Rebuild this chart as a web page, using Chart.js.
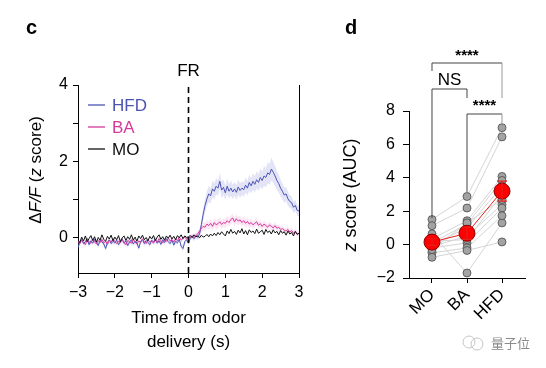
<!DOCTYPE html>
<html>
<head>
<meta charset="utf-8">
<script src="https://cdn.jsdelivr.net/npm/chart.js@4.4.1/dist/chart.umd.min.js"></script>
<style>
    html, body { margin: 0; padding: 0; background: #fff; }
    #wrap { position: relative; width: 546px; height: 368px; overflow: hidden; }
    #left { position: absolute; left: 0; top: 0; width: 320px; height: 368px; }
    #right { position: absolute; left: 330px; top: 0; width: 216px; height: 368px; }
</style>
</head>
<body>
<div id="wrap">
    <div id="left"><canvas id="traceChart"></canvas></div>
    <div id="right"><canvas id="aucChart"></canvas></div>
</div>
<script>
const FONT = '"Liberation Sans", Arial, Helvetica, sans-serif';

// ---- panel c: mean traces, -3 s .. 3 s (0.05 s bins) ----
const hfdMean = [
    -0.25, -0.12, -0.05, -0.15, -0.10, -0.02, -0.18, -0.08, -0.14, -0.04,
    -0.12, -0.20, -0.06, -0.10, -0.16, -0.28, -0.12, -0.05, -0.15, -0.09,
    -0.13, -0.06, -0.18, -0.10, -0.03, -0.14, -0.08, -0.20, -0.11, -0.05,
    -0.16, -0.09, -0.13, -0.27, -0.10, -0.04, -0.15, -0.07, -0.12, -0.18,
    -0.06, -0.11, -0.03, -0.14, -0.08, -0.17, -0.05, -0.12, -0.02, -0.10,
    -0.15, -0.06, -0.19, -0.09, -0.13, -0.04, -0.22, -0.28, -0.10, -0.05,
    -0.14,
    0.00, 0.03, -0.02, 0.05, 0.02, 0.10, 0.35, 0.62, 0.85, 1.02,
    1.15, 1.10, 1.28, 1.22, 1.35, 1.30, 1.48, 1.25, 1.32, 1.18,
    1.35, 1.22, 1.30, 1.20, 1.28, 1.19, 1.33, 1.24, 1.30, 1.26,
    1.38, 1.30, 1.45, 1.36, 1.48, 1.40, 1.52, 1.45, 1.58, 1.50,
    1.62, 1.58, 1.70, 1.66, 1.80, 1.72, 1.62, 1.50, 1.42, 1.30,
    1.22, 1.12, 1.15, 1.02, 0.95, 0.92, 0.80, 0.85, 0.72, 0.70
];
const hfdSem = [
    0.06, 0.07, 0.06, 0.05, 0.06, 0.07, 0.06, 0.06, 0.05, 0.06,
    0.07, 0.06, 0.06, 0.05, 0.06, 0.07, 0.06, 0.06, 0.05, 0.06,
    0.06, 0.07, 0.06, 0.05, 0.06, 0.06, 0.07, 0.06, 0.05, 0.06,
    0.06, 0.07, 0.06, 0.06, 0.05, 0.06, 0.07, 0.06, 0.06, 0.05,
    0.06, 0.06, 0.07, 0.06, 0.05, 0.06, 0.06, 0.07, 0.06, 0.05,
    0.06, 0.06, 0.07, 0.06, 0.06, 0.05, 0.06, 0.07, 0.06, 0.06,
    0.06,
    0.06, 0.06, 0.07, 0.07, 0.08, 0.10, 0.13, 0.16, 0.18, 0.20,
    0.21, 0.20, 0.22, 0.21, 0.22, 0.20, 0.22, 0.21, 0.20, 0.19,
    0.20, 0.19, 0.20, 0.19, 0.18, 0.19, 0.20, 0.19, 0.18, 0.19,
    0.20, 0.19, 0.21, 0.20, 0.22, 0.21, 0.23, 0.22, 0.24, 0.23,
    0.26, 0.25, 0.28, 0.27, 0.30, 0.28, 0.27, 0.25, 0.24, 0.22,
    0.21, 0.20, 0.19, 0.18, 0.17, 0.16, 0.15, 0.15, 0.14, 0.14
];
const baMean = [
    -0.08, -0.15, -0.05, -0.12, -0.18, -0.06, -0.10, -0.14, -0.03, -0.11,
    -0.16, -0.07, -0.12, -0.04, -0.13, -0.09, -0.17, -0.06, -0.11, -0.02,
    -0.10, -0.15, -0.08, -0.13, -0.05, -0.12, -0.18, -0.07, -0.10, -0.14,
    -0.04, -0.11, -0.16, -0.08, -0.12, -0.03, -0.10, -0.15, -0.06, -0.11,
    -0.09, -0.14, -0.05, -0.12, -0.02, -0.10, -0.13, -0.06, -0.09, -0.01,
    -0.08, -0.04, -0.11, -0.03, -0.07, 0.02, -0.06, -0.02, 0.03, -0.04,
    0.00,
    0.02, 0.05, 0.01, 0.06, 0.10, 0.18, 0.25, 0.30, 0.28, 0.36,
    0.32, 0.38, 0.30, 0.40, 0.34, 0.37, 0.42, 0.35, 0.40, 0.38,
    0.45, 0.40, 0.48, 0.52, 0.42, 0.50, 0.44, 0.47, 0.40, 0.45,
    0.38, 0.43, 0.36, 0.40, 0.34, 0.38, 0.42, 0.33, 0.37, 0.30,
    0.36, 0.32, 0.28, 0.34, 0.30, 0.26, 0.32, 0.25, 0.28, 0.22,
    0.24, 0.20, 0.18, 0.22, 0.15, 0.19, 0.12, 0.16, 0.10, 0.12
];
const baSem = [
    0.05, 0.05, 0.06, 0.05, 0.05, 0.06, 0.05, 0.05, 0.06, 0.05,
    0.05, 0.06, 0.05, 0.05, 0.06, 0.05, 0.05, 0.06, 0.05, 0.05,
    0.06, 0.05, 0.05, 0.06, 0.05, 0.05, 0.06, 0.05, 0.05, 0.06,
    0.05, 0.05, 0.06, 0.05, 0.05, 0.06, 0.05, 0.05, 0.06, 0.05,
    0.05, 0.06, 0.05, 0.05, 0.06, 0.05, 0.05, 0.06, 0.05, 0.05,
    0.06, 0.05, 0.05, 0.06, 0.05, 0.05, 0.06, 0.05, 0.05, 0.06,
    0.05,
    0.05, 0.06, 0.06, 0.07, 0.08, 0.09, 0.10, 0.10, 0.11, 0.11,
    0.11, 0.12, 0.11, 0.12, 0.12, 0.11, 0.12, 0.12, 0.11, 0.12,
    0.12, 0.11, 0.12, 0.12, 0.11, 0.12, 0.11, 0.11, 0.10, 0.11,
    0.10, 0.11, 0.10, 0.10, 0.10, 0.09, 0.10, 0.09, 0.10, 0.09,
    0.09, 0.09, 0.08, 0.09, 0.08, 0.08, 0.09, 0.08, 0.08, 0.08,
    0.08, 0.07, 0.08, 0.07, 0.07, 0.08, 0.07, 0.07, 0.07, 0.07
];
const moMean = [
    -0.05, -0.12, 0.02, -0.08, 0.05, -0.10, -0.02, 0.06, -0.07, 0.03,
    -0.11, 0.01, -0.06, 0.08, -0.04, -0.09, 0.04, -0.03, 0.07, -0.08,
    0.02, -0.05, 0.06, -0.10, 0.00, 0.05, -0.07, 0.03, -0.04, 0.08,
    -0.06, 0.02, -0.09, 0.05, -0.02, 0.07, -0.05, 0.01, -0.08, 0.04,
    -0.03, 0.06, -0.07, 0.02, 0.08, -0.04, 0.03, -0.06, 0.05, -0.01,
    0.07, -0.03, 0.04, -0.05, 0.06, 0.00, 0.08, -0.02, 0.05, 0.01,
    0.03,
    0.06, 0.01, 0.08, 0.03, 0.05, 0.00, 0.07, 0.02, 0.04, 0.09,
    0.03, 0.10, 0.05, 0.12, 0.06, 0.14, 0.08, 0.16, 0.10, 0.05,
    0.18, 0.11, 0.22, 0.12, 0.17, 0.09, 0.20, 0.13, 0.24, 0.10,
    0.19, 0.08, 0.21, 0.14, 0.18, 0.11, 0.23, 0.12, 0.16, 0.20,
    0.09, 0.22, 0.14, 0.18, 0.10, 0.21, 0.13, 0.17, 0.08, 0.19,
    0.12, 0.16, 0.07, 0.18, 0.10, 0.14, 0.05, 0.17, 0.09, 0.12
];
const timeTicks = [-3, -2, -1, 0, 1, 2, 3];
const traceYTicks = [0, 1, 2, 3, 4];
const traceLegend = [
    { label: "HFD", color: "#4b53b3" },
    { label: "BA", color: "#d63a9c" },
    { label: "MO", color: "#111111" }
];

// ---- panel d: per-animal AUC, group means ----
const groups = ["MO", "BA", "HFD"];
const moAuc = [1.50, 1.13, 0.64, 0.35, 0.10, 0.00, -0.10, -0.20, -0.50, -0.76, 0.20, -0.30];
const baAuc = [2.88, 2.19, -1.70, 1.43, 1.23, 1.00, 0.50, 0.10, -0.20, -0.35, 0.30, 1.30];
const hfdAuc = [7.00, 6.45, 1.30, 4.08, 3.84, 3.50, 2.40, 2.19, 1.73, 0.16, 3.00, 2.70];
const groupMean = [0.15, 0.68, 3.20];
const groupSem = [0.20, 0.37, 0.60];
const aucTicks = [-2, 0, 2, 4, 6, 8];

const minus = (v) => (v < 0 ? "\u2212" + Math.abs(v) : String(v));

function drawRich(ctx, parts, cx, cy, size, rotate) {
    ctx.save();
    ctx.translate(cx, cy);
    if (rotate) ctx.rotate(-Math.PI / 2);
    let total = 0;
    parts.forEach((p) => {
        ctx.font = (p.it ? "italic " : "") + size + "px " + FONT;
        p.w = ctx.measureText(p.t).width;
        total += p.w;
    });
    let x = -total / 2;
    ctx.textBaseline = "middle";
    ctx.textAlign = "left";
    ctx.fillStyle = "#000";
    parts.forEach((p) => {
        ctx.font = (p.it ? "italic " : "") + size + "px " + FONT;
        ctx.fillText(p.t, x, 0);
        x += p.w;
    });
    ctx.restore();
}

const n = hfdMean.length;
const times = hfdMean.map((_, i) => -3 + (6 * i) / (n - 1));
const toXY = (arr) => arr.map((v, i) => ({ x: times[i], y: v }));
const Y_MIN = -0.92;

const traceDecor = {
    id: "traceDecor",
    afterDraw(chart) {
        const ctx = chart.ctx;
        const x = chart.scales.x;
        ctx.save();
        ctx.fillStyle = "#000";
        ctx.font = "bold 20px " + FONT;
        ctx.textAlign = "left";
        ctx.textBaseline = "middle";
        ctx.fillText("c", 26, 28);

        ctx.font = "17px " + FONT;
        ctx.textAlign = "center";
        ctx.fillText("FR", x.getPixelForValue(0), 71);

        // legend inside the plot
        traceLegend.forEach((item, i) => {
            const y = 105 + i * 22;
            ctx.strokeStyle = item.color;
            ctx.lineWidth = 1.3;
            ctx.beginPath();
            ctx.moveTo(88, y);
            ctx.lineTo(105, y);
            ctx.stroke();
            ctx.fillStyle = item.color;
            ctx.textAlign = "left";
            ctx.font = "17px " + FONT;
            ctx.fillText(item.label, 112, y + 1);
        });

        ctx.fillStyle = "#000";
        ctx.textAlign = "center";
        ctx.font = "17px " + FONT;
        ctx.fillText("Time from odor", x.getPixelForValue(0), 318);
        ctx.fillText("delivery (s)", x.getPixelForValue(0), 342);
        ctx.restore();

        drawRich(ctx, [
            { t: "\u0394" }, { t: "F/F", it: true }, { t: " (" }, { t: "z", it: true }, { t: " score)" }
        ], 36, 170, 17, true);
    }
};

new Chart(document.getElementById("traceChart"), {
    type: "line",
    data: {
        datasets: [
            { data: toXY(hfdMean.map((v, i) => v + hfdSem[i])), borderWidth: 0, pointRadius: 0, fill: false, order: 10 },
            { data: toXY(hfdMean.map((v, i) => v - hfdSem[i])), borderWidth: 0, pointRadius: 0, fill: "-1", backgroundColor: "rgba(120, 120, 215, 0.2)", order: 10 },
            { data: toXY(baMean.map((v, i) => v + baSem[i])), borderWidth: 0, pointRadius: 0, fill: false, order: 9 },
            { data: toXY(baMean.map((v, i) => v - baSem[i])), borderWidth: 0, pointRadius: 0, fill: "-1", backgroundColor: "rgba(235, 130, 195, 0.2)", order: 9 },
            { data: toXY(hfdMean), borderColor: traceLegend[0].color, borderWidth: 1, pointRadius: 0, tension: 0, order: 3 },
            { data: toXY(baMean), borderColor: traceLegend[1].color, borderWidth: 1, pointRadius: 0, tension: 0, order: 2 },
            { data: toXY(moMean), borderColor: traceLegend[2].color, borderWidth: 1, pointRadius: 0, tension: 0, order: 1 },
            { data: [{ x: 0, y: Y_MIN }, { x: 0, y: 4 }], borderColor: "#000", borderWidth: 1.6, borderDash: [6, 4], pointRadius: 0, order: 0 }
        ]
    },
    options: {
        responsive: true,
        maintainAspectRatio: false,
        animation: false,
        layout: { padding: { left: 0, right: 21, top: 85, bottom: 0 } },
        plugins: { legend: { display: false }, tooltip: { enabled: false } },
        scales: {
            x: {
                type: "linear",
                min: -3,
                max: 3,
                afterBuildTicks: (s) => { s.ticks = timeTicks.map((v) => ({ value: v })); },
                afterFit: (s) => { s.height = 95; },
                ticks: { color: "#000", font: { size: 16, family: FONT }, padding: 5, callback: (v) => minus(v) },
                grid: { display: true, drawOnChartArea: false, drawTicks: true, tickLength: 5, color: "#000" },
                border: { display: true, color: "#000", width: 1 }
            },
            y: {
                min: Y_MIN,
                max: 4,
                afterBuildTicks: (s) => { s.ticks = traceYTicks.map((v) => ({ value: v })); },
                afterFit: (s) => { s.width = 78; },
                ticks: { color: "#000", font: { size: 16, family: FONT }, padding: 5, callback: (v) => (v % 2 === 0 ? minus(v) : "") },
                grid: { display: true, drawOnChartArea: false, drawTicks: true, tickLength: 5, color: "#000" },
                border: { display: true, color: "#000", width: 1 }
            },
            y2: {
                position: "right",
                min: Y_MIN,
                max: 4,
                afterFit: (s) => { s.width = 0; },
                ticks: { display: false },
                grid: { display: false, drawTicks: false },
                border: { display: true, color: "#000", width: 1 }
            }
        }
    },
    plugins: [traceDecor]
});

// ---- panel d ----
const aucDecor = {
    id: "aucDecor",
    afterDatasetsDraw(chart) {
        const ctx = chart.ctx;
        const x = chart.scales.x;
        const y = chart.scales.y;
        ctx.save();
        ctx.strokeStyle = "#e3201b";
        ctx.lineWidth = 1.2;
        groupMean.forEach((m, i) => {
            const px = x.getPixelForValue(i);
            const top = y.getPixelForValue(m + groupSem[i]);
            const bot = y.getPixelForValue(m - groupSem[i]);
            ctx.beginPath();
            ctx.moveTo(px, top); ctx.lineTo(px, bot);
            ctx.moveTo(px - 5, top); ctx.lineTo(px + 5, top);
            ctx.moveTo(px - 5, bot); ctx.lineTo(px + 5, bot);
            ctx.stroke();
        });
        ctx.restore();
    },
    afterDraw(chart) {
        const ctx = chart.ctx;
        const x = chart.scales.x;
        const [xm, xb, xh] = [0, 1, 2].map((v) => x.getPixelForValue(v));
        const line = (pts, color) => {
            ctx.strokeStyle = color;
            ctx.lineWidth = 1;
            ctx.beginPath();
            ctx.moveTo(pts[0][0], pts[0][1]);
            pts.slice(1).forEach((p) => ctx.lineTo(p[0], p[1]));
            ctx.stroke();
        };
        ctx.save();
        // MO vs HFD
        line([[xm, 71], [xm, 63], [xh, 63]], "#444");
        line([[xh, 63], [xh, 98]], "#999");
        // MO vs BA
        line([[xm, 218], [xm, 89], [xb, 89], [xb, 98]], "#444");
        // BA vs HFD
        line([[xb, 192], [xb, 114], [xh, 114]], "#444");
        line([[xh, 114], [xh, 123]], "#999");

        ctx.fillStyle = "#000";
        ctx.textAlign = "center";
        ctx.textBaseline = "middle";
        ctx.font = "bold 15px " + FONT;
        ctx.fillText("****", (xm + xh) / 2, 56);
        ctx.fillText("****", (xb + xh) / 2, 106);
        ctx.font = "17px " + FONT;
        ctx.fillText("NS", (xm + xb) / 2, 80);

        ctx.font = "bold 20px " + FONT;
        ctx.textAlign = "left";
        ctx.fillText("d", 15, 28);

        // watermark
        ctx.strokeStyle = "#c4c4c4";
        ctx.lineWidth = 1;
        ctx.beginPath(); ctx.arc(139, 342, 6, 0, Math.PI * 2); ctx.stroke();
        ctx.beginPath(); ctx.arc(147, 344, 6, 0, Math.PI * 2); ctx.stroke();
        ctx.fillStyle = "#8a8a8a";
        ctx.font = '13px "Noto Sans CJK SC", sans-serif';
        ctx.fillText("量子位", 161, 343);
        ctx.restore();

        drawRich(ctx, [{ t: "z", it: true }, { t: " score (AUC)" }], 21, 195, 18, true);
    }
};

const subjectLines = moAuc.map((v, i) => ({
    data: [{ x: 0, y: v }, { x: 1, y: baAuc[i] }, { x: 2, y: hfdAuc[i] }],
    borderColor: "#d4d4d4",
    borderWidth: 1,
    pointRadius: 0,
    order: 5
}));
const subjectPoints = {
    data: [
        ...moAuc.map((v) => ({ x: 0, y: v })),
        ...baAuc.map((v) => ({ x: 1, y: v })),
        ...hfdAuc.map((v) => ({ x: 2, y: v }))
    ],
    showLine: false,
    pointRadius: 4,
    pointBackgroundColor: "#a3a3a3",
    pointBorderColor: "#4a4a4a",
    pointBorderWidth: 0.8,
    order: 4
};
const meanLine = {
    data: groupMean.map((v, i) => ({ x: i, y: v })),
    borderColor: "#e3201b",
    borderWidth: 1,
    pointRadius: 8,
    pointBackgroundColor: "#ff0000",
    pointBorderColor: "#8c0000",
    pointBorderWidth: 1,
    order: 1
};

new Chart(document.getElementById("aucChart"), {
    type: "line",
    data: { datasets: [...subjectLines, subjectPoints, meanLine] },
    options: {
        responsive: true,
        maintainAspectRatio: false,
        animation: false,
        layout: { padding: { left: 0, right: 21, top: 111, bottom: 0 } },
        plugins: { legend: { display: false }, tooltip: { enabled: false } },
        scales: {
            x: {
                type: "linear",
                min: -0.657,
                max: 2.657,
                afterBuildTicks: (s) => { s.ticks = groups.map((_, i) => ({ value: i })); },
                afterFit: (s) => { s.height = 90; },
                ticks: {
                    color: "#000",
                    font: { size: 17, family: FONT },
                    minRotation: 45,
                    maxRotation: 45,
                    padding: 2,
                    callback: (v) => groups[v] ?? ""
                },
                grid: { display: true, drawOnChartArea: false, drawTicks: true, tickLength: 5, color: "#000" },
                border: { display: true, color: "#000", width: 1 }
            },
            y: {
                min: -2,
                max: 8,
                afterBuildTicks: (s) => { s.ticks = aucTicks.map((v) => ({ value: v })); },
                afterFit: (s) => { s.width = 79; },
                ticks: { color: "#000", font: { size: 16, family: FONT }, padding: 8, callback: (v) => minus(v) },
                grid: { display: true, drawOnChartArea: false, drawTicks: true, tickLength: 6, color: "#000" },
                border: { display: true, color: "#000", width: 1 }
            }
        }
    },
    plugins: [aucDecor]
});
</script>
</body>
</html>
